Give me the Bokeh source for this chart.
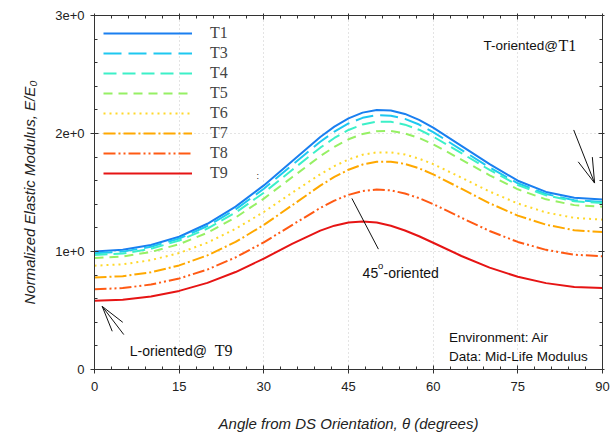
from bokeh.plotting import figure
from bokeh.models import (Range1d, LinearAxis, SingleIntervalTicker, Legend, LegendItem,
                          CustomJSTickFormatter)
from bokeh.core.properties import value
from bokeh.embed import file_html
from bokeh.resources import INLINE

theta = [0, 5, 10, 15, 20, 25, 30, 35, 40, 42.5, 45, 47.5, 50, 52.5, 55, 57.5, 60, 65, 70, 75, 80, 85, 90]
T1 = [1.000, 1.014, 1.055, 1.125, 1.235, 1.380, 1.560, 1.765, 1.970, 2.058, 2.128, 2.177, 2.199, 2.195, 2.166, 2.116, 2.050, 1.895, 1.740, 1.600, 1.505, 1.455, 1.440]
T3 = [0.985, 0.999, 1.040, 1.110, 1.216, 1.357, 1.532, 1.732, 1.930, 2.016, 2.085, 2.133, 2.155, 2.151, 2.124, 2.076, 2.012, 1.862, 1.712, 1.578, 1.487, 1.435, 1.420]
T4 = [0.970, 0.983, 1.023, 1.093, 1.194, 1.330, 1.498, 1.690, 1.880, 1.962, 2.030, 2.077, 2.100, 2.099, 2.075, 2.032, 1.974, 1.834, 1.691, 1.563, 1.476, 1.426, 1.410]
T5 = [0.945, 0.958, 0.996, 1.062, 1.159, 1.288, 1.448, 1.629, 1.808, 1.887, 1.951, 1.996, 2.020, 2.021, 2.001, 1.962, 1.909, 1.779, 1.646, 1.527, 1.442, 1.393, 1.380]
T6 = [0.880, 0.891, 0.927, 0.987, 1.075, 1.192, 1.335, 1.497, 1.655, 1.724, 1.780, 1.820, 1.840, 1.840, 1.822, 1.787, 1.741, 1.626, 1.508, 1.407, 1.331, 1.285, 1.270]
T7 = [0.780, 0.791, 0.824, 0.882, 0.967, 1.081, 1.225, 1.391, 1.558, 1.632, 1.693, 1.737, 1.760, 1.761, 1.742, 1.705, 1.654, 1.532, 1.409, 1.304, 1.227, 1.180, 1.165]
T8 = [0.680, 0.690, 0.720, 0.771, 0.847, 0.950, 1.078, 1.224, 1.369, 1.431, 1.480, 1.512, 1.525, 1.518, 1.492, 1.452, 1.402, 1.286, 1.174, 1.081, 1.014, 0.973, 0.960]
T9 = [0.583, 0.592, 0.619, 0.666, 0.734, 0.826, 0.940, 1.064, 1.177, 1.219, 1.245, 1.254, 1.245, 1.218, 1.178, 1.129, 1.074, 0.962, 0.863, 0.786, 0.732, 0.700, 0.690]

series_names = ["T1", "T3", "T4", "T5", "T6", "T7", "T8", "T9"]
series_values = [T1, T3, T4, T5, T6, T7, T8, T9]
y_tick_labels = {0: "0", 1: "1e+0", 2: "2e+0", 3: "3e+0"}

colors = ["#1a7ff0", "#1ec8f0", "#3cf0c8", "#96f064", "#ffd82a", "#ffa800", "#ff5a14", "#e61414"]
dashes = ["solid", "18 7", "13 6", "9 6", "2 4", "12 3 2 3", "12 3 2 3 2 3", "solid"]

SANS = "Liberation Sans"
SERIF = "Liberation Serif"
AX = "#333333"

p = figure(width=615, height=434, x_range=Range1d(0, 90), y_range=Range1d(0, 3),
           output_backend="svg", toolbar_location=None,
           min_border_left=94, min_border_right=13, min_border_top=15, min_border_bottom=63)
p.outline_line_color = None
p.background_fill_color = "white"
p.border_fill_color = "white"

xt = SingleIntervalTicker(interval=15, num_minor_ticks=5)
yt = SingleIntervalTicker(interval=1, num_minor_ticks=5)

bottom = p.below[0]
left = p.left[0]
bottom.ticker = xt
left.ticker = yt
left.major_label_overrides = y_tick_labels

blank = CustomJSTickFormatter(code="return ''")
right = LinearAxis(ticker=yt, formatter=blank)
top = LinearAxis(ticker=xt, formatter=blank)
p.add_layout(right, "right")
p.add_layout(top, "above")

for ax in [bottom, left, right, top]:
    ax.axis_line_color = AX
    ax.major_tick_line_color = AX
    ax.minor_tick_line_color = AX
    ax.major_tick_in = 4
    ax.major_tick_out = 4
    ax.minor_tick_in = 3
    ax.minor_tick_out = 0
    ax.major_label_text_font = SANS
    ax.major_label_text_font_size = "13px"
    ax.major_label_text_color = "#222222"

for ax in [right, top]:
    ax.major_label_text_font_size = "1px"
    ax.major_label_standoff = 0
    ax.major_tick_out = 2

bottom.major_label_standoff = 8
left.major_label_standoff = 6
bottom.axis_label = "Angle from DS Orientation, \u03b8 (degrees)"
left.axis_label = "Normalized Elastic Modulus, E/E\u2080"
for ax in [bottom, left]:
    ax.axis_label_text_font = SANS
    ax.axis_label_text_font_style = "italic"
    ax.axis_label_text_font_size = "15px"
    ax.axis_label_text_color = "#222222"
bottom.axis_label_standoff = 21
left.axis_label_standoff = 14

p.xgrid.ticker = xt
p.ygrid.ticker = yt
for g in [p.xgrid[0], p.ygrid[0]]:
    g.grid_line_color = "#c8c8c8"
    g.grid_line_dash = "1 3"
    g.grid_line_width = 1

items = []
for name, vals, c, d in zip(series_names, series_values, colors, dashes):
    r = p.line(theta, vals, line_color=c, line_width=2, line_dash=d)
    items.append(LegendItem(label=name, renderers=[r]))

legend = Legend(items=items, location="top_left", background_fill_alpha=0,
                border_line_color=None, label_text_font=SERIF, label_text_font_size="16px",
                glyph_width=89, glyph_height=18, label_height=18, spacing=2,
                padding=0, margin=9, label_standoff=18)
p.add_layout(legend)

# annotation arrows
arrow_x0 = [84.9, 85.7, 88.2, 5.19, 5.01, 3.14, 45.6]
arrow_y0 = [2.03, 1.76, 1.80, 0.296, 0.400, 0.324, 1.45]
arrow_x1 = [88.6, 88.6, 88.6, 1.36, 1.36, 1.36, 50.3]
arrow_y1 = [1.58, 1.58, 1.58, 0.535, 0.535, 0.535, 1.02]
p.segment(arrow_x0, arrow_y0, arrow_x1, arrow_y1, line_color="#111111", line_width=1)

def txt(x, y, s, font, size, xo=0, yo=0):
    p.text(x=[x], y=[y], text=[s], text_font=value(font), text_font_size=size,
           text_baseline="alphabetic", text_align="left", text_color="#111111",
           x_offset=xo, y_offset=yo)

txt(68.9, 2.747, "T-oriented@", SANS, "13.5px")
txt(68.9, 2.747, "T1", SERIF, "16px", xo=75)
txt(6.25, 0.159, "L-oriented@", SANS, "14px")
txt(6.25, 0.159, "T9", SERIF, "16px", xo=85)
txt(47.5, 0.814, "45", SANS, "14px")
txt(47.5, 0.814, "o", SANS, "9.5px", xo=15.5, yo=-8)
txt(47.5, 0.814, "-oriented", SANS, "14px", xo=21)
txt(62.8, 0.272, "Environment: Air", SANS, "13.5px")
txt(62.8, 0.272, "Data: Mid-Life Modulus", SANS, "13.5px", yo=19)
txt(28.7, 1.64, ":", SANS, "9px")

open("out.html", "w").write(file_html(p, INLINE))
